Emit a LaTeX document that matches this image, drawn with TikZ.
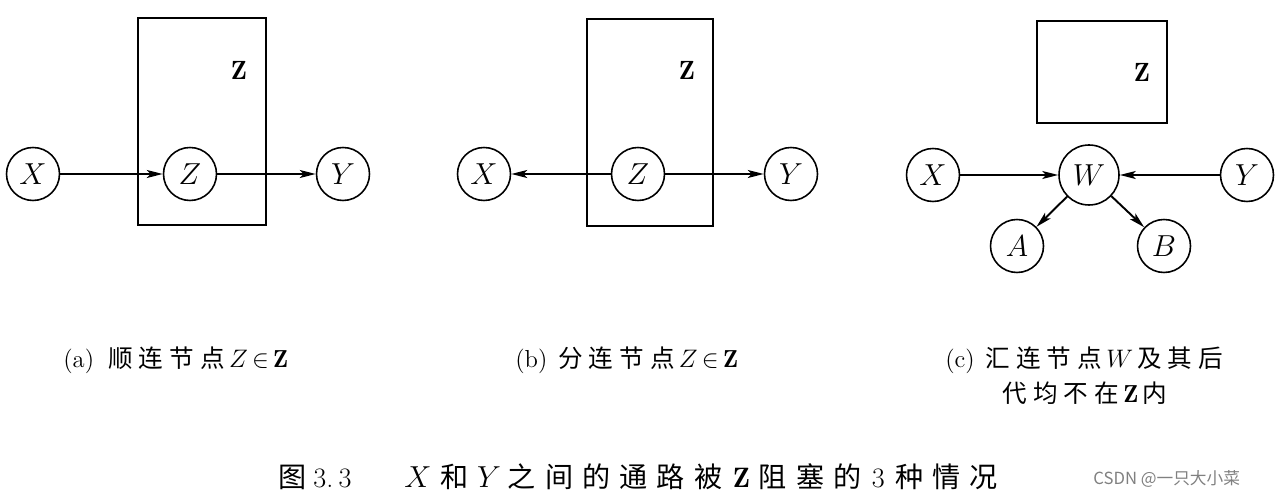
\documentclass[tikz,border=0pt]{standalone}
\usepackage{fontspec}
\usepackage{amsmath}
\usepackage{amssymb}
\newfontfamily\cjk{Noto Sans CJK SC}
\usetikzlibrary{arrows.meta}
\newcommand\charsep[1]{\spaceskip #1\relax}

\begin{document}
\begin{tikzpicture}[x=0.02cm,y=-0.02cm,
    var/.style={circle,draw,line width=0.9pt,minimum size=1.06cm,inner sep=0pt,
      font=\fontsize{16}{18}\selectfont},
    arr/.style={-{Stealth[length=9pt,width=4.5pt,inset=2pt]},line width=1.1pt},
    setbox/.style={draw,line width=1pt},
    setlbl/.style={font=\fontsize{15}{18}\selectfont},
    sub/.style={anchor=west,inner sep=0pt,font={\fontsize{14}{16}\selectfont\charsep{3.5pt}}}]
  \useasboundingbox (0,0) rectangle (1280,502);

  % (a) head-to-tail
  \draw[setbox] (138,18) rectangle (266,225);
  \node[setlbl] (la) at (239,70) {$\mathbf{Z}$};
  \node[var] (xa) at (33,174)  {$X$};
  \node[var] (za) at (190,174) {$Z$};
  \node[var] (ya) at (343,174) {$Y$};
  \draw[arr] (xa) -- (za);
  \draw[arr] (za) -- (ya);

  % (b) tail-to-tail
  \draw[setbox] (587,19) rectangle (713,226);
  \node[setlbl] (lb) at (687,70) {$\mathbf{Z}$};
  \node[var] (xb) at (484,174) {$X$};
  \node[var] (zb) at (638,174) {$Z$};
  \node[var] (yb) at (791,174) {$Y$};
  \draw[arr] (zb) -- (xb);
  \draw[arr] (zb) -- (yb);

  % (c) head-to-head
  \draw[setbox] (1037,21) rectangle (1167,123);
  \node[setlbl] (lc) at (1142,72) {$\mathbf{Z}$};
  \node[var] (xc) at (933,175)  {$X$};
  \node[var,minimum size=1.2cm] (wc) at (1089,175) {$W$};
  \node[var] (yc) at (1247,175) {$Y$};
  \node[var] (ac) at (1017,246) {$A$};
  \node[var] (bc) at (1164,246) {$B$};
  \draw[arr] (xc) -- (wc);
  \draw[arr] (yc) -- (wc);
  \draw[arr] (wc) -- (ac);
  \draw[arr] (wc) -- (bc);

  % captions
  \node[sub] (ca) at (63,360)
    {(a)\hspace{8pt}{\cjk 顺 连 节 点}\,$Z\,{\in}\,\mathbf{Z}$};
  \node[sub] (cb) at (515,360)
    {(b)\hspace{6pt}{\cjk 分 连 节 点}\,$Z\,{\in}\,\mathbf{Z}$};
  \node[sub] (cc) at (945,360)
    {(c)\hspace{6pt}{\cjk 汇 连 节 点}\,$W$\,{\cjk 及 其 后}};
  \node[sub] (cc2) at (1002,393) {{\cjk 代 均 不 在}\,$\mathbf{Z}$\,{\cjk 内}};
  \node[anchor=west,inner sep=0pt,font={\fontsize{16}{18}\selectfont\charsep{5.2pt}}] (fig) at (278,477)
    {{\cjk 图}\hspace{4pt}3.\hspace{3pt}3\hspace{30pt}$X$\hspace{5pt}{\cjk 和}\hspace{5pt}$Y$\hspace{4pt}{\cjk 之 间 的 通 路 被}\hspace{6pt}$\mathbf{Z}$\hspace{5pt}{\cjk 阻 塞 的}\hspace{6pt}3\hspace{6pt}{\cjk 种 情 况}};
  \node[anchor=west,inner sep=0pt,text=gray,font=\fontsize{9.5}{11}\selectfont] (wm) at (1093,479)
    {\cjk CSDN @一只大小菜};
\end{tikzpicture}
\end{document}
